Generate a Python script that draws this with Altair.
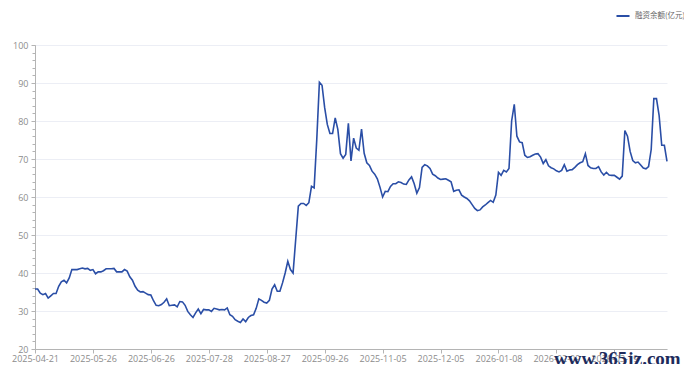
import altair as alt
import pandas as pd

series_name = "融资余额(亿元)"

values = [
    35.8, 35.8, 34.7, 34.3, 34.6, 33.4, 34.0, 34.6, 34.6, 36.5,
    37.7, 38.1, 37.4, 38.7, 40.9, 40.9, 40.9, 41.1, 41.3, 41.1,
    41.2, 40.7, 40.9, 39.8, 40.3, 40.3, 40.6, 41.1, 41.1, 41.1,
    41.2, 40.3, 40.3, 40.3, 40.9, 40.5, 39.0, 38.1, 36.5, 35.5,
    35.0, 35.1, 34.7, 34.3, 34.2, 32.7, 31.5, 31.4, 31.7, 32.3,
    33.2, 31.4, 31.5, 31.6, 31.1, 32.5, 32.4, 31.5, 29.9, 29.0,
    28.3, 29.5, 30.5, 29.3, 30.4, 30.3, 30.3, 29.9, 30.7, 30.5,
    30.3, 30.4, 30.3, 30.8, 29.0, 28.6, 27.7, 27.3, 27.0, 27.9,
    27.2, 28.3, 28.8, 29.0, 30.7, 33.2, 32.8, 32.3, 32.1, 32.8,
    35.8, 36.9, 35.2, 35.2, 37.4, 40.0, 43.1, 40.9, 40.0, 48.8,
    57.6, 58.3, 58.3, 57.8, 58.5, 62.8, 62.4, 75.1, 90.2, 89.4,
    83.5, 79.1, 76.7, 76.7, 80.8, 77.8, 71.4, 70.2, 71.2, 79.4,
    69.5, 75.5, 72.9, 72.3, 77.9, 71.5, 69.0, 68.3, 66.8, 66.0,
    64.8, 62.6, 60.0, 61.5, 61.4, 62.8, 63.5, 63.5, 64.0, 63.8,
    63.4, 63.3, 64.5, 65.3, 63.5, 61.0, 62.5, 67.8, 68.5, 68.2,
    67.5, 66.0, 65.6, 65.0, 64.6, 64.7, 64.8, 64.4, 64.0, 61.5,
    61.8, 61.9, 60.5, 60.0, 59.6, 59.0, 58.0, 57.0, 56.4, 56.6,
    57.4, 57.9, 58.5, 59.1, 58.6, 60.5, 66.5, 65.7, 67.0, 66.6,
    67.5, 80.0, 84.4, 76.0, 74.5, 74.3, 71.0, 70.4, 70.6, 71.0,
    71.3, 71.4, 70.5, 68.8, 69.8, 68.2, 67.7, 67.4, 66.9, 66.6,
    67.0, 68.5, 66.8, 67.1, 67.2, 67.8, 68.5, 69.0, 69.3, 71.4,
    68.3, 67.7, 67.5, 67.5, 68.0, 66.6, 65.8, 66.5, 65.8, 65.7,
    65.7, 65.2, 64.7, 65.5, 77.5, 76.0, 72.0, 69.6, 69.0, 69.2,
    68.4, 67.6, 67.4, 68.0, 72.5, 85.9, 85.9, 81.5, 73.6, 73.6,
    69.4,
]

tick_labels = [
    "2025-04-21", "2025-05-26", "2025-06-26", "2025-07-28", "2025-08-27",
    "2025-09-26", "2025-11-05", "2025-12-05", "2026-01-08", "2026-02-09",
    "2026-03-19",
]
tick_step = 22
y_major = [20, 30, 40, 50, 60, 70, 80, 90, 100]
y_minor = list(range(20, 101, 2))
watermark = "www.365jz.com"

df = pd.DataFrame({"i": list(range(len(values))), "v": values, "s": series_name})

label_expr = "[" + ",".join(f"'{t}'" for t in tick_labels) + f"][round(datum.value/{tick_step})]"

line_color = "#2a4ea6"
axis_grey = "#b4b4b4"
label_grey = "#8c8c8c"

x_scale = alt.Scale(domain=[0, len(values) - 1], nice=False, zero=False)
x_axis = alt.Axis(
    values=[k * tick_step for k in range(len(tick_labels))],
    labelExpr=label_expr,
    title=None,
    grid=False,
    domainColor=axis_grey,
    tickColor=axis_grey,
    tickSize=4,
    labelColor=label_grey,
    labelFontSize=9,
    labelFont="Open Sans",
    labelPadding=1,
    labelFlush=False,
    labelOverlap=False,
)

y_scale = alt.Scale(domain=[20, 100], nice=False, zero=False)

main = alt.Chart(df).mark_line(strokeWidth=1.6).encode(
    x=alt.X("i:Q", scale=x_scale, axis=x_axis),
    y=alt.Y(
        "v:Q",
        scale=y_scale,
        axis=alt.Axis(
            orient="left",
            values=y_major,
            title=None,
            grid=True,
            gridColor="#eceef5",
            gridWidth=1,
            domainColor=axis_grey,
            tickColor=axis_grey,
            tickSize=4,
            labelColor=label_grey,
            labelFontSize=9,
            labelFont="Open Sans",
            labelPadding=3,
        ),
    ),
    color=alt.Color(
        "s:N",
        scale=alt.Scale(range=[line_color]),
        legend=alt.Legend(
            title=None,
            orient="none",
            legendX=580,
            legendY=-37,
            symbolType="stroke",
            symbolSize=170,
            symbolStrokeWidth=2,
            labelFontSize=7.5,
            labelColor="#666666",
            labelFont="Noto Sans CJK SC",
            labelOffset=4,
            padding=0,
        ),
    ),
)

minor = alt.Chart(df).mark_line(opacity=0).encode(
    x=alt.X("i:Q", scale=x_scale, axis=x_axis),
    y=alt.Y(
        "v:Q",
        scale=y_scale,
        axis=alt.Axis(
            orient="left",
            values=y_minor,
            title=None,
            grid=False,
            labels=False,
            domain=False,
            tickColor=axis_grey,
            tickSize=3,
        ),
    ),
)

wm = alt.Chart(pd.DataFrame({"t": [watermark]})).mark_text(
    font="Liberation Serif",
    fontWeight="bold",
    fontSize=19,
    color="#1d2b5c",
    align="left",
    baseline="alphabetic",
).encode(text="t:N", x=alt.value(519), y=alt.value(320))

chart = (
    alt.layer(main, minor, wm)
    .resolve_axis(y="independent")
    .properties(
        width=632,
        height=304,
        autosize=alt.AutoSizeParams(type="none"),
        padding={"left": 27, "top": 37, "right": 17, "bottom": 15},
    )
    .configure_view(stroke=None)
)

chart.save("out.html", embed_options={"renderer": "svg", "actions": False})
